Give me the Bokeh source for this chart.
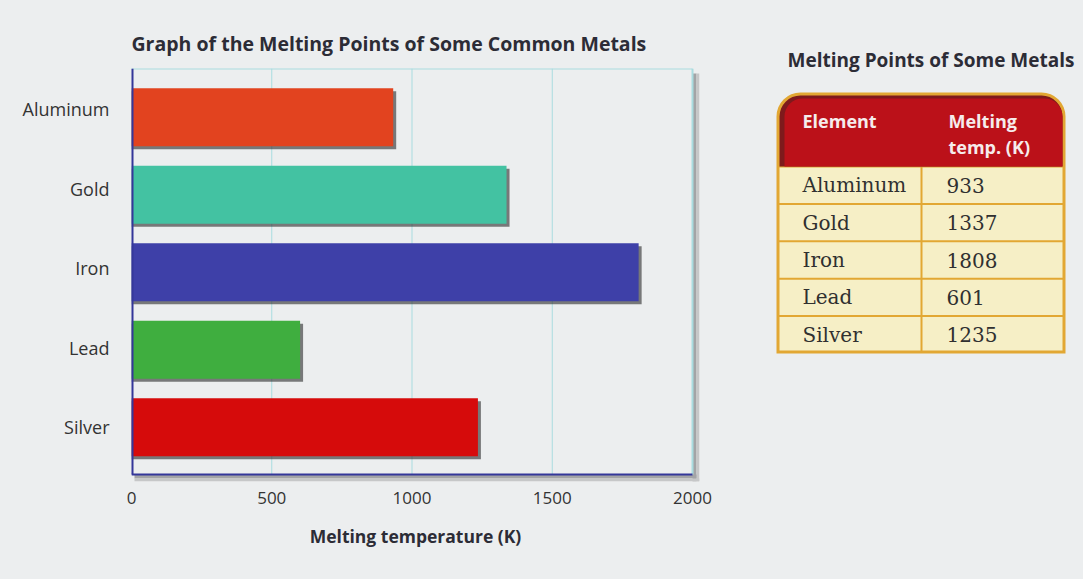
from bokeh.plotting import figure
from bokeh.layouts import row
from bokeh.models import Range1d, FixedTicker, BoxAnnotation
from bokeh.core.properties import value
from bokeh.embed import file_html
from bokeh.resources import INLINE

# ---- data -------------------------------------------------------------
metals = ["Aluminum", "Gold", "Iron", "Lead", "Silver"]
melting_k = [933, 1337, 1808, 601, 1235]
bar_colors = ["#e2431f", "#43c2a2", "#3e40a8", "#3fae3f", "#d60b0b"]
x_ticks = [0, 500, 1000, 1500, 2000]

chart_title = "Graph of the Melting Points of Some Common Metals"
x_label = "Melting temperature (K)"
table_title = "Melting Points of Some Metals"
table_head = ["Element", "Melting", "temp. (K)"]

# ---- styling ----------------------------------------------------------
BG = "#eceeef"
INK = "#2c2c36"
GRID = "#a9dce0"
AXIS = "#34379a"
SANS = "Open Sans"
SERIF = "DejaVu Serif"

n = len(metals)
ypos = [n - 1 - i for i in range(n)]
label_spread = 1.026            # tick labels sit slightly wider apart than the bars
label_pos = [y * label_spread for y in ypos]

# plot box geometry (the frame is a little larger than the box so that a
# drop shadow can be drawn to its right and below it)
box_w, box_h = 561, 406
shadow_px = 7
x_min, x_max = x_ticks[0], x_ticks[-1]
y_bot, y_top = -0.61, 4.63
kx = (x_max - x_min) / box_w          # data units per pixel, x
ky = (y_top - y_bot) / box_h          # data units per pixel, y
x_end = x_max + shadow_px * kx
y_start = y_bot - shadow_px * ky

TOP_BORDER, LEFT_BORDER = 68, 131
FIG_W, FIG_H = 745, 579

p = figure(frame_width=box_w + shadow_px, frame_height=box_h + shadow_px,
           min_border_left=LEFT_BORDER,
           min_border_right=FIG_W - LEFT_BORDER - box_w - shadow_px,
           min_border_top=TOP_BORDER,
           min_border_bottom=FIG_H - TOP_BORDER - box_h - shadow_px,
           x_range=Range1d(x_min, x_end), y_range=Range1d(y_start, y_top),
           output_backend="svg", toolbar_location=None,
           background_fill_color=BG, border_fill_color=BG)

p.title.text = chart_title
p.title.align = "left"
p.title.text_font = SANS
p.title.text_font_size = "19.5px"
p.title.text_font_style = "bold"
p.title.text_color = INK
p.title.standoff = 24

p.outline_line_color = None
p.grid.grid_line_color = None

# drop shadow of the plot box
SHADOW = ["#a3a4a6", "#c6c7c8"]
p.quad(left=[x_max, x_max + 4 * kx], right=[x_max + 4 * kx, x_end],
       top=[y_top - 5 * ky] * 2, bottom=[y_start] * 2,
       fill_color=SHADOW, line_color=None)
p.quad(left=[x_min + 3 * kx] * 2, right=[x_max + 4 * kx, x_end],
       top=[y_bot, y_bot - 4 * ky], bottom=[y_bot - 4 * ky, y_start],
       fill_color=SHADOW, line_color=None)
p.quad(left=[x_min], right=[x_max], top=[y_top], bottom=[y_bot],
       fill_color=BG, line_color=None)

# vertical grid lines and the light frame edges
inner = x_ticks[1:-1]
p.segment(x0=inner, x1=inner, y0=y_bot, y1=y_top, line_color=GRID, line_width=1)
p.segment(x0=[x_max, x_min], x1=[x_max, x_max], y0=[y_bot, y_top], y1=[y_top, y_top],
          line_color=GRID, line_width=2)

# bar shadows, then the bars
p.hbar(y=[y - 3 * ky for y in ypos], left=0, right=[v + 3 * kx for v in melting_k],
       height=0.75, fill_color="#2a2a2a", fill_alpha=0.6, line_color=None)
p.hbar(y=ypos, left=0, right=melting_k, height=0.75,
       fill_color=bar_colors, line_color=None)

# dark blue axis lines along the left and bottom of the box
p.segment(x0=[x_min, x_min], x1=[x_min, x_max], y0=[y_bot, y_bot], y1=[y_top, y_bot],
          line_color=AXIS, line_width=[4, 2])

xa = p.xaxis[0]
xa.ticker = FixedTicker(ticks=x_ticks)
xa.axis_line_color = None
xa.major_tick_line_color = None
xa.minor_tick_line_color = None
xa.major_label_text_font = SANS
xa.major_label_text_font_size = "17px"
xa.major_label_text_color = "#333333"
xa.major_label_standoff = 4
xa.axis_label = x_label
xa.axis_label_text_font = SANS
xa.axis_label_text_font_size = "17.5px"
xa.axis_label_text_font_style = "bold"
xa.axis_label_text_color = INK
xa.axis_label_standoff = 17

ya = p.yaxis[0]
ya.ticker = FixedTicker(ticks=label_pos)
ya.major_label_overrides = {y: m for y, m in zip(label_pos, metals)}
ya.axis_line_color = None
ya.major_tick_line_color = None
ya.minor_tick_line_color = None
ya.major_label_text_font = SANS
ya.major_label_text_font_size = "18px"
ya.major_label_text_color = "#333333"
ya.major_label_standoff = 16

# ---- data table -------------------------------------------------------
TW = 1083 - FIG_W
frame_h = box_h + shadow_px
t = figure(frame_width=TW, frame_height=frame_h, min_border_left=0,
           min_border_right=0, min_border_top=TOP_BORDER,
           min_border_bottom=FIG_H - TOP_BORDER - frame_h,
           x_range=Range1d(0, TW), y_range=Range1d(TOP_BORDER + frame_h, TOP_BORDER),
           x_axis_type=None, y_axis_type=None,
           output_backend="svg", toolbar_location=None,
           background_fill_color=BG, border_fill_color=BG)
t.grid.visible = False
t.outline_line_color = None

t.title.text = table_title
t.title.align = "left"
t.title.offset = 42
t.title.text_font = SANS
t.title.text_font_size = "19px"
t.title.text_font_style = "bold"
t.title.text_color = INK
t.title.standoff = -9

GOLD = "#e2a733"
RED = "#bb1119"
RED_DARK = "#7e1a1c"
CELL = "#f6efc6"

left, right, top, head_bottom, bottom = 31, 320, 92, 166, 353
col_split = 176
row_h = (bottom - head_bottom) / n


def box(l, r, tp, b, color, radius):
    return BoxAnnotation(left=l, right=r, top=tp, bottom=b, fill_color=color,
                         fill_alpha=1, line_color=None, level="underlay",
                         border_radius=(radius, radius, 0, 0))


t.add_layout(box(left, right, top, bottom, GOLD, 24))
t.add_layout(box(left + 3, right - 3, top + 3, head_bottom, RED_DARK, 21))
t.add_layout(box(left + 8, right - 3, top + 6, head_bottom, RED, 18))

row_tops = [head_bottom + i * row_h for i in range(n)]
cell_left = [left + 3, col_split + 1]
cell_right = [col_split - 1, right - 3]
for c in range(2):
    t.quad(left=cell_left[c], right=cell_right[c],
           top=[rt + 1 for rt in row_tops],
           bottom=[rt + row_h - (3 if i == n - 1 else 1) for i, rt in enumerate(row_tops)],
           fill_color=CELL, line_color=None)

t.text(x=[57, 203, 203], y=[120, 120, 146], text=table_head,
       text_font=value(SANS), text_font_size="18px", text_font_style="bold",
       text_color="#f6ecec", text_align="left", text_baseline="middle")

row_mid = [rt + row_h / 2 for rt in row_tops]
t.text(x=[57] * n, y=row_mid, text=metals, text_font=value(SERIF),
       text_font_size="20px", text_color="#303030",
       text_align="left", text_baseline="middle")
t.text(x=[201] * n, y=row_mid, text=[str(v) for v in melting_k],
       text_font=value(SERIF), text_font_size="20px",
       text_color="#303030", text_align="left", text_baseline="middle")

layout = row(p, t, styles={"background-color": BG})
open("out.html", "w").write(file_html(layout, INLINE))
